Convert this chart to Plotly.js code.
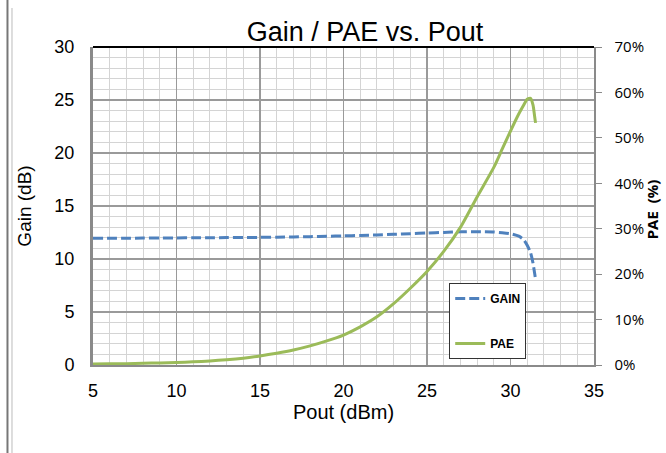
<!DOCTYPE html>
<html>
<head>
<meta charset="utf-8">
<script src="https://cdn.plot.ly/plotly-3.0.1.min.js"></script>
<style>html,body{margin:0;padding:0;background:#fff;}#chart{width:666px;height:453px;}</style>
</head>
<body>
<div id="chart"></div>
<script>
// Data
const pout = [5,6,7,8,9,10,11,12,13,14,15,16,17,18,19,20,21,22,23,24,25,26,27,28,29,29.5,30,30.5,30.8,31.0,31.2,31.35,31.45,31.5];
const gain = [11.95,11.95,11.96,11.97,11.98,11.99,12.0,12.01,12.02,12.03,12.04,12.06,12.08,12.11,12.14,12.18,12.22,12.27,12.33,12.39,12.45,12.51,12.56,12.58,12.55,12.48,12.38,12.15,11.8,11.3,10.6,9.6,8.6,8.1];
const pae  = [0.2,0.25,0.3,0.4,0.45,0.55,0.7,0.9,1.15,1.5,2.0,2.6,3.3,4.2,5.3,6.6,8.4,10.6,13.5,16.9,20.6,25.0,30.3,37.0,43.5,47.5,51.5,55.3,57.3,58.5,58.7,57.2,54.6,53.3];
const titleText = "Gain / PAE vs. Pout";
const xTitle = "Pout (dBm)";
const yTitle = "Gain (dB)";
const y2Title = "PAE  (%)";

const traces = [
  {x: pout, y: gain, name: "GAIN", type: "scatter", mode: "lines", yaxis: "y",
   line: {color: "#4F81BD", width: 3, dash: "10px,4px", shape: "spline", smoothing: 0.6}, legendgroup: "g1"},
  {x: pout, y: pae, name: "PAE", type: "scatter", mode: "lines", yaxis: "y2",
   line: {color: "#9BBB59", width: 3, shape: "spline", smoothing: 0.6}, legendgroup: "g2"}
];

const layout = {
  width: 666, height: 453,
  margin: {l: 93, r: 72, t: 47, b: 88, pad: 0},
  paper_bgcolor: "#fff", plot_bgcolor: "#fff",
  font: {family: "Liberation Sans, Arial, sans-serif", color: "#000"},
  title: {text: titleText, font: {size: 27, family: "Liberation Sans, Arial, sans-serif", color: "#000"},
          x: 0.548, xanchor: "center", y: 0.93, yanchor: "middle"},
  showlegend: true,
  legend: {x: 0.711, y: 0.258, xanchor: "left", yanchor: "top", bgcolor: "#fff",
           bordercolor: "#333", borderwidth: 1, traceorder: "grouped", tracegroupgap: 26,
           font: {family: "Liberation Sans, Arial, sans-serif", size: 12, weight: "bold", color: "#000"}},
  xaxis: {range: [5, 35], dtick: 5, tick0: 5, showgrid: true, gridcolor: "#9a9a9a", gridwidth: 1.5,
          minor: {dtick: 1, showgrid: true, gridcolor: "#d4d4d4", gridwidth: 1},
          zeroline: false, showline: true, linecolor: "#8a8a8a", linewidth: 2,
          ticks: "", ticklabelstandoff: 8, tickfont: {size: 18},
          title: {text: xTitle, font: {size: 20}, standoff: 4}, fixedrange: true},
  yaxis: {range: [0, 30], dtick: 5, showgrid: true, gridcolor: "#9a9a9a", gridwidth: 1.5,
          minor: {dtick: 1, showgrid: true, gridcolor: "#d4d4d4", gridwidth: 1},
          zeroline: false, showline: true, linecolor: "#8a8a8a", linewidth: 3,
          ticks: "", ticklabelstandoff: 12, tickfont: {size: 18},
          title: {text: yTitle, font: {size: 19}, standoff: 18}, fixedrange: true},
  yaxis2: {range: [0, 70], dtick: 10, overlaying: "y", side: "right", showgrid: false, zeroline: false,
           showline: true, linecolor: "#8a8a8a", linewidth: 1.5, ticks: "outside", ticklen: 6, tickcolor: "#8a8a8a",
           ticksuffix: "%", ticklabelstandoff: 10, tickfont: {size: 15, family: "Open Sans, sans-serif"}, fixedrange: true},
  annotations: [
    {text: y2Title, xref: "paper", yref: "paper", x: 1.116, y: 0.49, textangle: -90, showarrow: false,
     xanchor: "center", yanchor: "middle", font: {size: 15, family: "Open Sans, sans-serif", weight: "bold", color: "#000"}}
  ],
  shapes: [
    {type: "line", xref: "paper", yref: "paper", x0: 0, x1: 1, y0: 1, y1: 1, line: {color: "#000", width: 2}},
    {type: "line", xref: "paper", yref: "paper", x0: -0.1707, x1: -0.1707, y0: -0.28, y1: 1.15, line: {color: "#777", width: 2}},
    {type: "line", xref: "paper", yref: "paper", x0: -0.1617, x1: -0.1617, y0: -0.28, y1: 1.1226, line: {color: "#bbb", width: 1}}
  ]
};

Plotly.newPlot("chart", traces, layout, {staticPlot: true, displayModeBar: false});
</script>
</body>
</html>
